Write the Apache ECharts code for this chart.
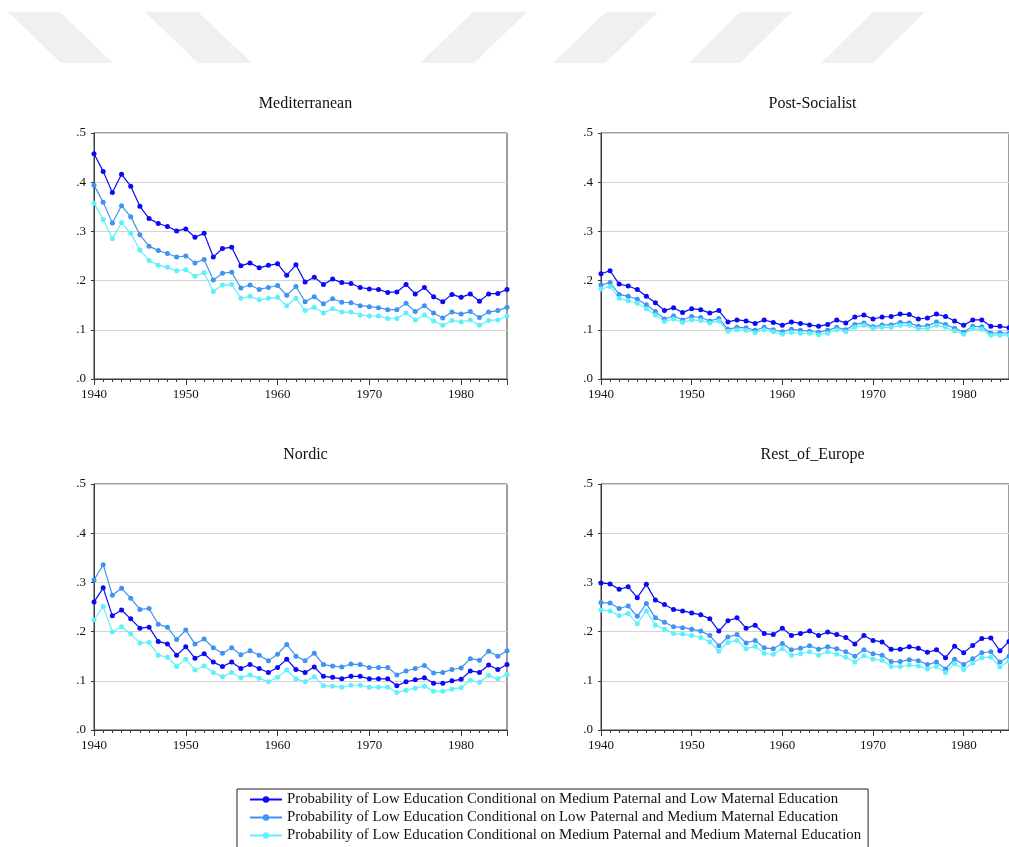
<!DOCTYPE html>
<html>
<head>
<meta charset="utf-8">
<script src="https://cdn.jsdelivr.net/npm/echarts@6/dist/echarts.min.js"></script>
<style>
html,body{margin:0;padding:0;background:#fff;}
#chart{width:1009px;height:847px;}
</style>
</head>
<body>
<div id="chart"></div>
<script>
// ---- Data ----
const years = [];
for (let y = 1940; y <= 1985; y++) years.push(y);

const panelTitles = ["Mediterranean", "Post-Socialist", "Nordic", "Rest_of_Europe"];
const seriesNames = [
  "Probability of Low Education Conditional on Medium Paternal and Low Maternal Education",
  "Probability of Low Education Conditional on Low Paternal and Medium Maternal Education",
  "Probability of Low Education Conditional on Medium Paternal and Medium Maternal Education"
];
const yTickLabels = [".0", ".1", ".2", ".3", ".4", ".5"];

// Mediterranean
const medS1 = [0.458,0.422,0.379,0.416,0.392,0.351,0.326,0.316,0.310,0.301,0.305,0.288,0.296,0.248,0.265,0.268,0.230,0.236,0.226,0.231,0.234,0.211,0.232,0.197,0.207,0.192,0.203,0.196,0.194,0.186,0.183,0.182,0.176,0.177,0.192,0.173,0.186,0.167,0.157,0.172,0.166,0.173,0.158,0.173,0.174,0.182];
const medS2 = [0.394,0.359,0.317,0.352,0.330,0.293,0.270,0.261,0.255,0.248,0.250,0.236,0.243,0.201,0.215,0.217,0.185,0.191,0.182,0.186,0.190,0.170,0.188,0.157,0.167,0.153,0.163,0.156,0.155,0.149,0.147,0.145,0.141,0.141,0.154,0.137,0.149,0.134,0.124,0.136,0.132,0.137,0.125,0.136,0.139,0.146];
const medS3 = [0.357,0.324,0.285,0.318,0.296,0.262,0.241,0.231,0.227,0.220,0.222,0.209,0.216,0.178,0.191,0.192,0.164,0.168,0.161,0.164,0.166,0.149,0.164,0.139,0.146,0.134,0.143,0.136,0.136,0.130,0.128,0.128,0.123,0.123,0.134,0.120,0.130,0.118,0.109,0.119,0.116,0.120,0.109,0.119,0.120,0.128];

// Post-Socialist
const psS1 = [0.214,0.220,0.193,0.189,0.182,0.168,0.155,0.139,0.145,0.135,0.143,0.141,0.134,0.139,0.116,0.120,0.118,0.113,0.120,0.115,0.109,0.116,0.113,0.110,0.107,0.111,0.120,0.114,0.126,0.130,0.122,0.126,0.127,0.132,0.131,0.122,0.124,0.132,0.127,0.118,0.109,0.120,0.120,0.107,0.107,0.104];
const psS2 = [0.191,0.196,0.172,0.168,0.162,0.151,0.137,0.122,0.128,0.120,0.127,0.125,0.118,0.123,0.101,0.105,0.104,0.099,0.105,0.100,0.096,0.101,0.099,0.097,0.095,0.099,0.105,0.100,0.111,0.114,0.106,0.110,0.110,0.115,0.114,0.107,0.108,0.116,0.111,0.103,0.095,0.107,0.106,0.093,0.094,0.093];
const psS3 = [0.183,0.188,0.164,0.159,0.154,0.143,0.130,0.117,0.122,0.115,0.120,0.119,0.114,0.118,0.097,0.100,0.099,0.094,0.100,0.096,0.091,0.095,0.093,0.093,0.090,0.093,0.100,0.096,0.105,0.109,0.103,0.105,0.105,0.109,0.109,0.102,0.103,0.109,0.105,0.098,0.091,0.102,0.101,0.089,0.089,0.089];

// Nordic
const noS1 = [0.260,0.289,0.232,0.244,0.226,0.207,0.209,0.180,0.175,0.152,0.169,0.146,0.155,0.138,0.129,0.138,0.125,0.133,0.125,0.117,0.127,0.144,0.123,0.117,0.128,0.109,0.107,0.104,0.109,0.109,0.104,0.104,0.104,0.090,0.098,0.102,0.106,0.095,0.095,0.100,0.103,0.120,0.117,0.132,0.123,0.133];
const noS2 = [0.305,0.336,0.274,0.288,0.268,0.245,0.247,0.215,0.209,0.184,0.203,0.175,0.185,0.167,0.156,0.167,0.153,0.161,0.152,0.141,0.154,0.174,0.150,0.141,0.156,0.133,0.130,0.128,0.134,0.133,0.127,0.127,0.127,0.112,0.120,0.125,0.131,0.116,0.117,0.123,0.126,0.145,0.142,0.160,0.150,0.161];
const noS3 = [0.224,0.251,0.199,0.210,0.195,0.177,0.178,0.152,0.148,0.129,0.144,0.122,0.130,0.117,0.108,0.117,0.106,0.112,0.105,0.098,0.107,0.122,0.104,0.098,0.108,0.090,0.089,0.087,0.091,0.091,0.087,0.087,0.087,0.076,0.081,0.085,0.089,0.079,0.079,0.083,0.086,0.101,0.097,0.111,0.104,0.113];

// Rest_of_Europe
const reS1 = [0.299,0.297,0.286,0.291,0.269,0.296,0.264,0.255,0.245,0.242,0.238,0.234,0.226,0.201,0.222,0.228,0.207,0.213,0.196,0.194,0.207,0.192,0.196,0.201,0.192,0.199,0.194,0.188,0.175,0.192,0.182,0.179,0.164,0.164,0.169,0.166,0.158,0.163,0.147,0.170,0.157,0.172,0.186,0.187,0.161,0.180];
const reS2 = [0.259,0.258,0.247,0.252,0.231,0.257,0.228,0.219,0.210,0.208,0.205,0.201,0.192,0.171,0.189,0.194,0.177,0.182,0.167,0.165,0.176,0.163,0.166,0.171,0.164,0.169,0.165,0.159,0.150,0.163,0.155,0.152,0.139,0.139,0.143,0.141,0.133,0.138,0.124,0.144,0.133,0.145,0.157,0.159,0.138,0.150];
const reS3 = [0.244,0.242,0.232,0.237,0.216,0.242,0.213,0.205,0.196,0.195,0.192,0.188,0.179,0.160,0.178,0.182,0.165,0.170,0.156,0.154,0.165,0.152,0.155,0.159,0.152,0.159,0.154,0.148,0.138,0.151,0.144,0.142,0.129,0.129,0.132,0.130,0.124,0.129,0.117,0.135,0.123,0.136,0.147,0.148,0.128,0.140];

// ---- Build chart ----
const panels = [[medS1, medS2, medS3], [psS1, psS2, psS3], [noS1, noS2, noS3], [reS1, reS2, reS3]];
const colors = ["#0a0af5", "#3f93f3", "#5ef0fb"];
const FONT = "Liberation Serif";

const gridPos = [
  {left: 94, top: 133},
  {left: 601, top: 133},
  {left: 94, top: 484},
  {left: 601, top: 484}
];
const PW = 413, PH = 246;

const grids = [], xAxes = [], yAxes = [], series = [], titles = [];
gridPos.forEach((g, i) => {
  grids.push({left: g.left, top: g.top, width: PW, height: PH, show: true, borderColor: "#3a3a3a", borderWidth: 1, backgroundColor: "transparent"});
  xAxes.push({
    type: "value", gridIndex: i, min: 1940, max: 1985, interval: 10,
    axisLine: {show: true, onZero: false, lineStyle: {color: "#3a3a3a", width: 1}},
    axisTick: {show: true, length: 6, lineStyle: {color: "#3a3a3a"}},
    minorTick: {show: true, splitNumber: 10, length: 3, lineStyle: {color: "#3a3a3a"}},
    axisLabel: {showMaxLabel: false, margin: 9, fontFamily: FONT, fontSize: 13, color: "#111", formatter: v => String(v)},
    splitLine: {show: false}
  });
  yAxes.push({
    type: "value", gridIndex: i, min: 0, max: 0.5, interval: 0.1,
    axisLine: {show: true, lineStyle: {color: "#3a3a3a", width: 1}},
    axisTick: {show: true, length: 3, lineStyle: {color: "#3a3a3a"}},
    axisLabel: {margin: 8, fontFamily: FONT, fontSize: 13, color: "#111", formatter: v => yTickLabels[Math.round(v * 10)]},
    splitLine: {show: true, lineStyle: {color: "#d4d4d4", width: 1}}
  });
  titles.push({
    text: panelTitles[i], left: g.left + PW / 2, top: g.top - 42, textAlign: "center",
    textStyle: {fontFamily: FONT, fontSize: 16, fontWeight: "normal", color: "#111"}
  });
  panels[i].forEach((vals, k) => {
    series.push({
      name: seriesNames[k], type: "line", xAxisIndex: i, yAxisIndex: i,
      data: years.map((yr, j) => [yr, vals[j]]),
      symbol: "circle", symbolSize: 5, showSymbol: true,
      itemStyle: {color: colors[k]},
      lineStyle: {color: colors[k], width: 1.2},
      emphasis: {disabled: true}, animation: false
    });
  });
});

// watermark stripes (background decoration)
const stripes = [
  [[8,12],[60,12],[113,63],[61,63]],
  [[145,12],[198,12],[252,63],[198,63]],
  [[473,12],[527,12],[474,63],[420,63]],
  [[606,12],[658,12],[605,63],[553,63]],
  [[740,12],[792,12],[740,63],[689,63]],
  [[873,12],[925,12],[873,63],[821,63]]
];
const graphic = stripes.map(p => ({type: "polygon", shape: {points: p}, style: {fill: "#f0f0f0"}, z: -10, silent: true}));

const chart = echarts.init(document.getElementById("chart"), null, {renderer: "canvas"});
chart.setOption({
  backgroundColor: "#ffffff",
  animation: false,
  title: titles,
  graphic: graphic,
  grid: grids,
  xAxis: xAxes,
  yAxis: yAxes,
  legend: {
    orient: "vertical", left: 237, top: 789, height: 90,
    data: seriesNames,
    itemWidth: 32, itemHeight: 8, itemGap: 3,
    padding: [3, 7, 8, 12],
    borderColor: "#222", borderWidth: 1,
    selectedMode: false,
    textStyle: {fontFamily: FONT, fontSize: 14.8, color: "#111"}
  },
  series: series
});
</script>
</body>
</html>
